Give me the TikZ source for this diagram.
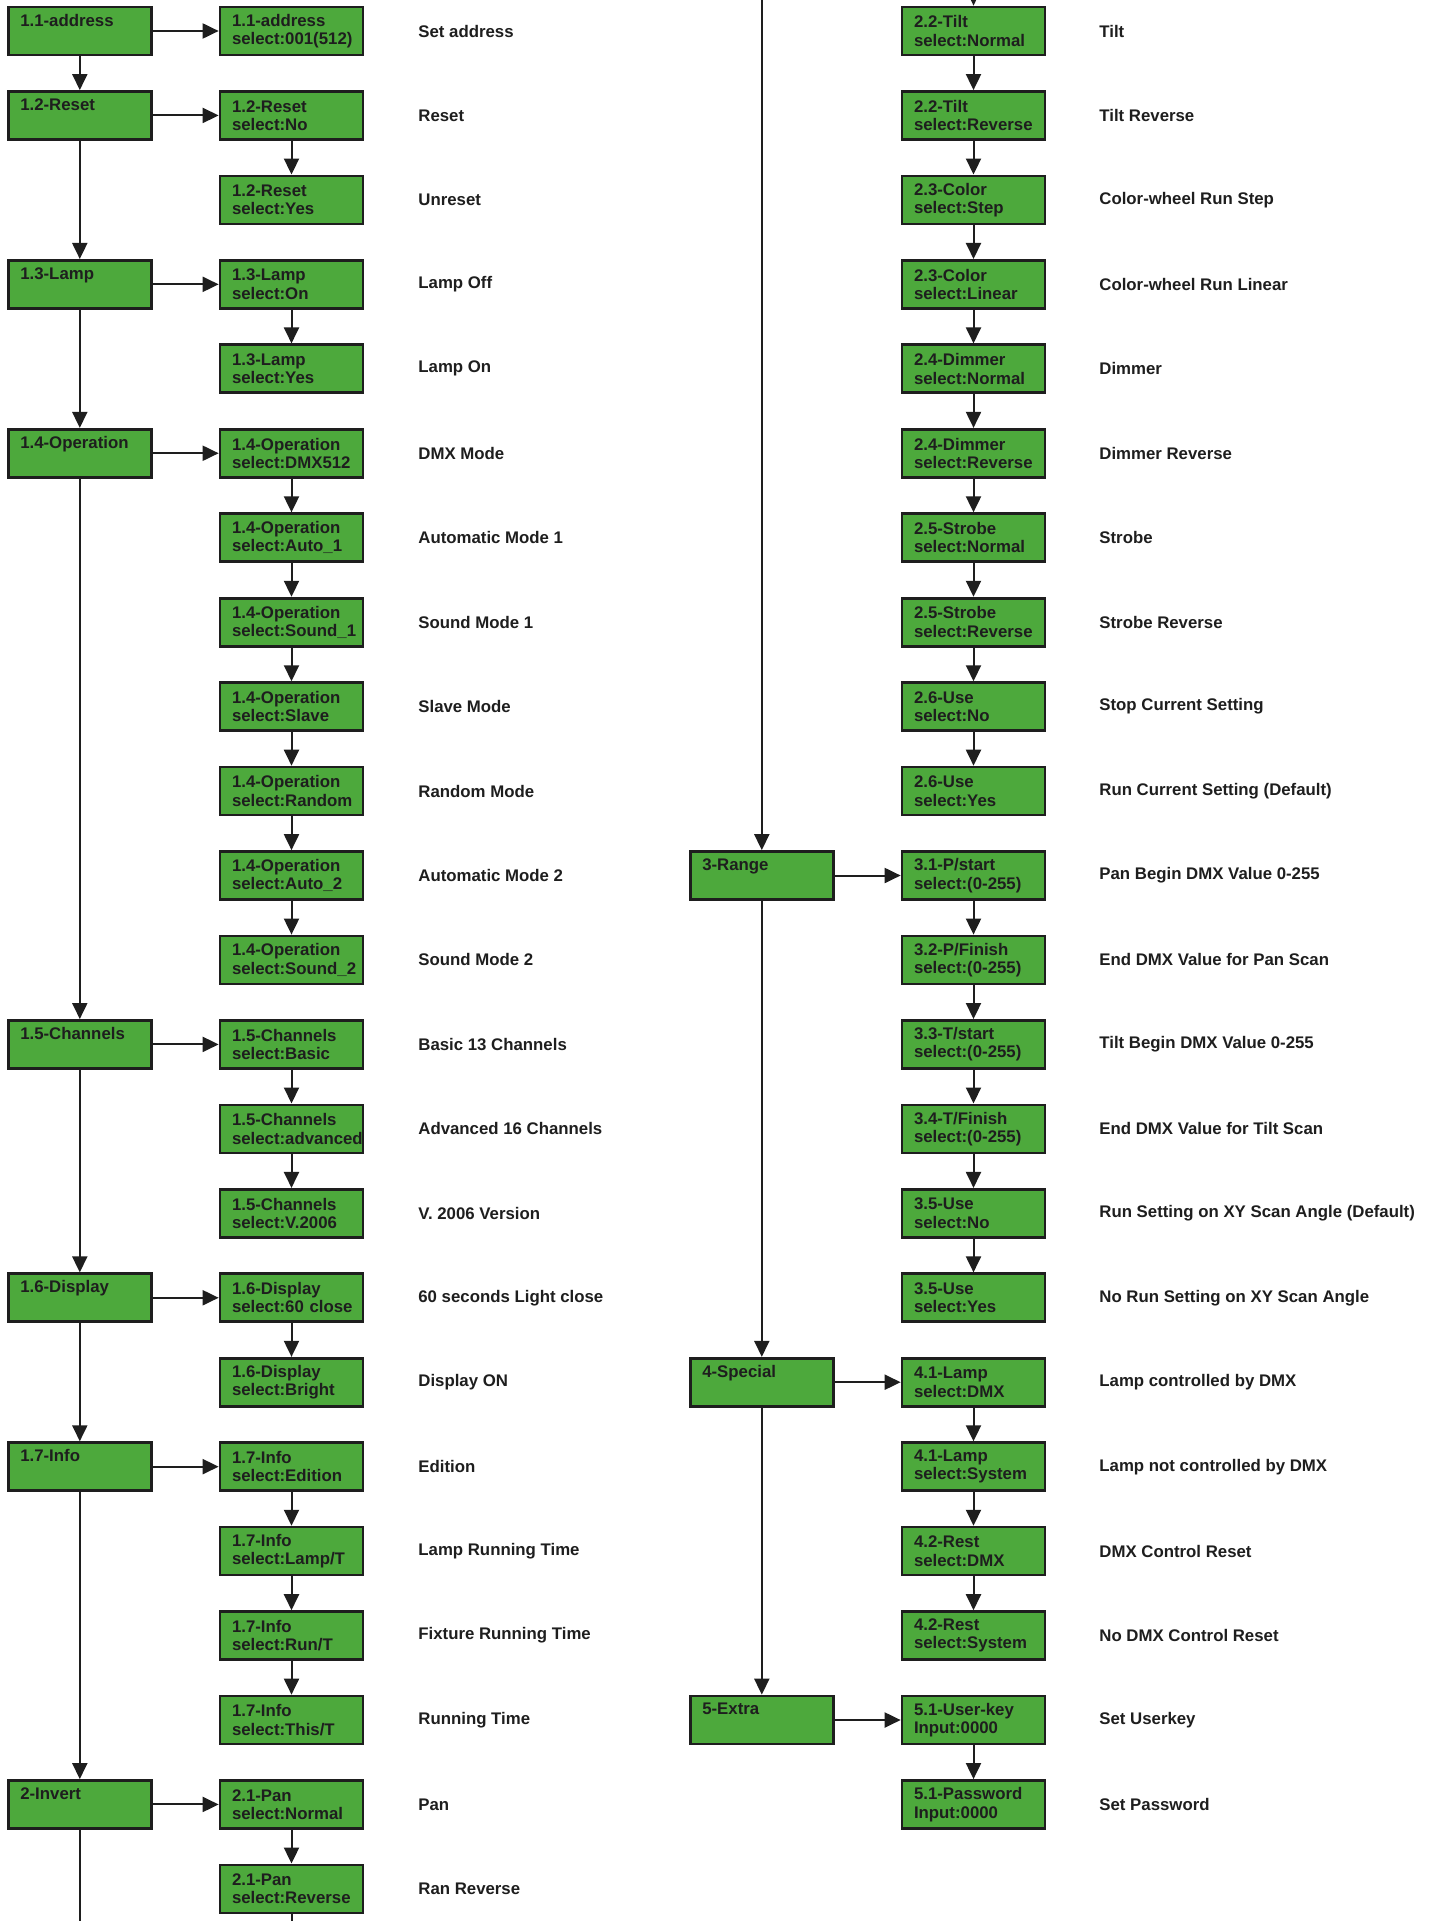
\documentclass[tikz,border=0pt]{standalone}
\usepackage{fontspec}
\setmainfont{Liberation Sans}
\usetikzlibrary{positioning, arrows.meta}
\definecolor{lcd}{HTML}{4DA93C}
\definecolor{ink}{HTML}{1E1E1E}

\begin{document}
\begin{tikzpicture}[
	x = 0.5pt, y = -0.5pt,
	every node/.style = {font = \bfseries\fontsize{8.4}{9.2}\selectfont, text = ink},
	menu/.style = {draw = ink, fill = lcd, line width = 1.35pt, minimum height = 24pt,
		text width = 59.5pt, inner xsep = 6pt, inner ysep = 0pt, align = left},
	main/.style = {menu, text depth = 11pt},
	desc/.style = {anchor = west, inner sep = 0pt},
	link/.style = {draw = ink, line width = 1pt, -{Triangle[length = 8pt, width = 7.5pt]}},
	wire/.style = {draw = ink, line width = 1pt},
	node distance = 33pt
	]
	\useasboundingbox[fill = white] (0,0) rectangle (1431,1921);
	% left column: settings
	\foreach \i/\s/\d in {
		1/{1.1-address\\select:001(512)}/Set address,
		2/{1.2-Reset\\select:No}/Reset,
		3/{1.2-Reset\\select:Yes}/Unreset,
		4/{1.3-Lamp\\select:On}/Lamp Off,
		5/{1.3-Lamp\\select:Yes}/Lamp On,
		6/{1.4-Operation\\select:DMX512}/DMX Mode,
		7/{1.4-Operation\\select:Auto\_1}/Automatic Mode 1,
		8/{1.4-Operation\\select:Sound\_1}/Sound Mode 1,
		9/{1.4-Operation\\select:Slave}/Slave Mode,
		10/{1.4-Operation\\select:Random}/Random Mode,
		11/{1.4-Operation\\select:Auto\_2}/Automatic Mode 2,
		12/{1.4-Operation\\select:Sound\_2}/Sound Mode 2,
		13/{1.5-Channels\\select:Basic}/Basic 13 Channels,
		14/{1.5-Channels\\select:advanced}/Advanced 16 Channels,
		15/{1.5-Channels\\select:V.2006}/V. 2006 Version,
		16/{1.6-Display\\select:60~close}/60 seconds Light close,
		17/{1.6-Display\\select:Bright}/Display ON,
		18/{1.7-Info\\select:Edition}/Edition,
		19/{1.7-Info\\select:Lamp/T}/Lamp Running Time,
		20/{1.7-Info\\select:Run/T}/Fixture Running Time,
		21/{1.7-Info\\select:This/T}/Running Time,
		22/{2.1-Pan\\select:Normal}/Pan,
		23/{2.1-Pan\\select:Reverse}/Ran Reverse}
		{
		\node[menu] (l\i) at (291.5, {31 + (\i - 1)*84.45}) {\s};
		\node[desc] (ld\i) at (418, {31 + (\i - 1)*84.45}) {\d};
		}
	% right column: settings
	\foreach \i/\s/\d in {
		1/{2.2-Tilt\\select:Normal}/Tilt,
		2/{2.2-Tilt\\select:Reverse}/Tilt Reverse,
		3/{2.3-Color\\select:Step}/Color-wheel Run Step,
		4/{2.3-Color\\select:Linear}/Color-wheel Run Linear,
		5/{2.4-Dimmer\\select:Normal}/Dimmer,
		6/{2.4-Dimmer\\select:Reverse}/Dimmer Reverse,
		7/{2.5-Strobe\\select:Normal}/Strobe,
		8/{2.5-Strobe\\select:Reverse}/Strobe Reverse,
		9/{2.6-Use\\select:No}/Stop Current Setting,
		10/{2.6-Use\\select:Yes}/Run Current Setting (Default),
		11/{3.1-P/start\\select:(0-255)}/Pan Begin DMX Value 0-255,
		12/{3.2-P/Finish\\select:(0-255)}/End DMX Value for Pan Scan,
		13/{3.3-T/start\\select:(0-255)}/Tilt Begin DMX Value 0-255,
		14/{3.4-T/Finish\\select:(0-255)}/End DMX Value for Tilt Scan,
		15/{3.5-Use\\select:No}/Run Setting on XY Scan Angle (Default),
		16/{3.5-Use\\select:Yes}/No Run Setting on XY Scan Angle,
		17/{4.1-Lamp\\select:DMX}/Lamp controlled by DMX,
		18/{4.1-Lamp\\select:System}/Lamp not controlled by DMX,
		19/{4.2-Rest\\select:DMX}/DMX Control Reset,
		20/{4.2-Rest\\select:System}/No DMX Control Reset,
		21/{5.1-User-key\\Input:0000}/Set Userkey,
		22/{5.1-Password\\Input:0000}/Set Password}
		{
		\node[menu] (r\i) at (973.5, {31 + (\i - 1)*84.45}) {\s};
		\node[desc] (rd\i) at (1099, {31 + (\i - 1)*84.45}) {\d};
		}
	% menu entries
	\node[main, left = of l1] (m11) {1.1-address};
	\node[main, left = of l2] (m12) {1.2-Reset};
	\node[main, left = of l4] (m13) {1.3-Lamp};
	\node[main, left = of l6] (m14) {1.4-Operation};
	\node[main, left = of l13] (m15) {1.5-Channels};
	\node[main, left = of l16] (m16) {1.6-Display};
	\node[main, left = of l18] (m17) {1.7-Info};
	\node[main, left = of l22] (m2) {2-Invert};
	\node[main, left = of r11] (m3) {3-Range};
	\node[main, left = of r17] (m4) {4-Special};
	\node[main, left = of r21] (m5) {5-Extra};
	% page edges
	\coordinate (ltrunk) at (m2.center |- 0,1921);
	\coordinate (lchain) at (l23.center |- 0,1921);
	\coordinate (rtrunk) at (m3.center |- 0,0);
	\coordinate (rchain) at (r1.center |- 0,0);
	% connectors
	\foreach \a/\b in {m11/m12, m12/m13, m13/m14, m14/m15, m15/m16, m16/m17, m17/m2,
		rtrunk/m3, m3/m4, m4/m5, rchain/r1,
		m11/l1, m12/l2, m13/l4, m14/l6, m15/l13, m16/l16, m17/l18, m2/l22,
		m3/r11, m4/r17, m5/r21}
		\draw[link] (\a) -- (\b);
	\foreach \a/\b in {2/3, 4/5, 6/7, 7/8, 8/9, 9/10, 10/11, 11/12, 13/14, 14/15,
		16/17, 18/19, 19/20, 20/21, 22/23}
		\draw[link] (l\a) -- (l\b);
	\foreach \a/\b in {1/2, 2/3, 3/4, 4/5, 5/6, 6/7, 7/8, 8/9, 9/10,
		11/12, 12/13, 13/14, 14/15, 15/16, 17/18, 18/19, 19/20, 21/22}
		\draw[link] (r\a) -- (r\b);
	\draw[wire] (m2) -- (ltrunk);
	\draw[wire] (l23) -- (lchain);
\end{tikzpicture}
\end{document}
